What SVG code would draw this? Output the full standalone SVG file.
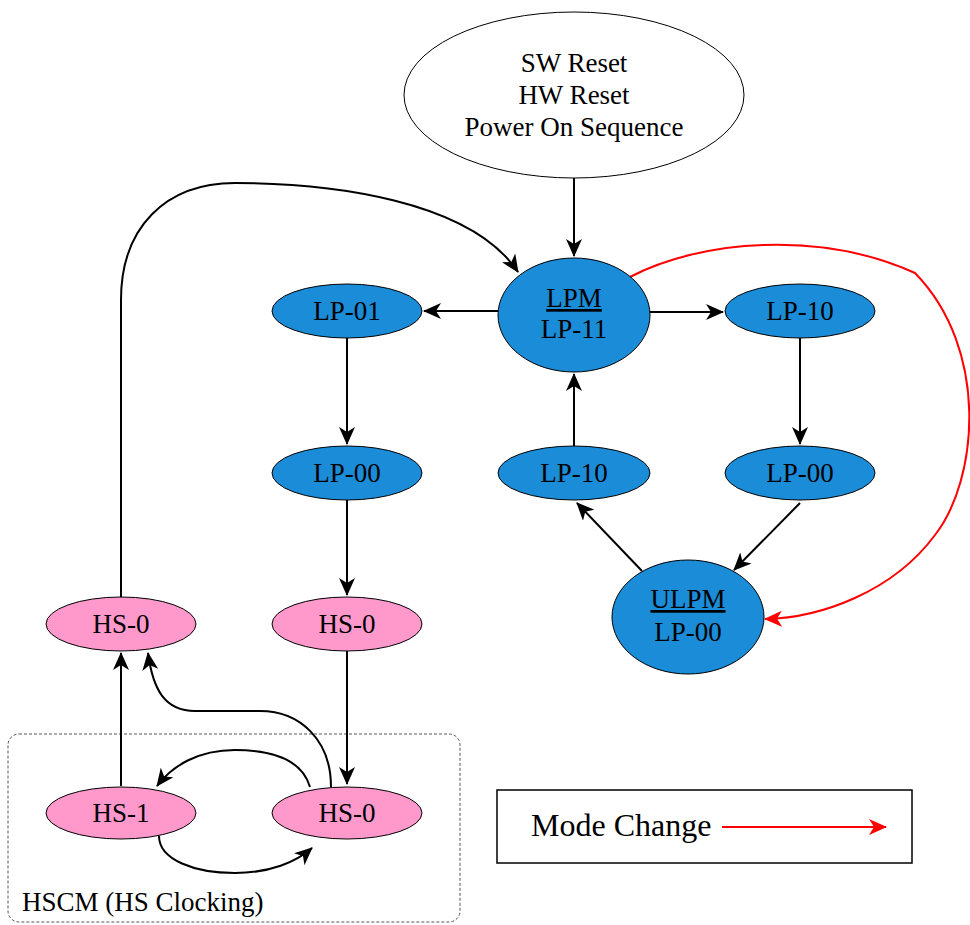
<svg xmlns="http://www.w3.org/2000/svg" width="970" height="925" viewBox="0 0 970 925">
<style>
text{font-size:27px;fill:#000;text-anchor:middle}
.blue{fill:#1B8CD8;stroke:#000;stroke-width:1}
.pink{fill:#FF99CC;stroke:#000;stroke-width:1}
.white{fill:#fff;stroke:#000;stroke-width:1}
.c{fill:none;stroke:#000;stroke-width:2}
.r{fill:none;stroke:#FF0000;stroke-width:2}
.u{text-decoration:underline}
</style>
<defs>
<marker id="ab" markerUnits="userSpaceOnUse" markerWidth="18" markerHeight="16" refX="17" refY="8" orient="auto"><path d="M0,0 L18,8 L0,16 L5,8 Z" fill="#000"/></marker>
<marker id="ar" markerUnits="userSpaceOnUse" markerWidth="18" markerHeight="16" refX="17" refY="8" orient="auto"><path d="M0,0 L18,8 L0,16 L5,8 Z" fill="#FF0000"/></marker>
</defs>
<g font-family="'Liberation Serif', 'DejaVu Serif', serif">
<g id="hscm-box">
<rect x="8" y="734" width="452" height="188" rx="11" fill="none" stroke="#555" stroke-width="1" stroke-dasharray="3 2"/>
<text x="22" y="911" style="text-anchor:start">HSCM (HS Clocking)</text>
</g>
<g id="connectors">
<path class="c" d="M574,178 L574,256" marker-end="url(#ab)"/>
<path class="c" d="M498,311 L424,311" marker-end="url(#ab)"/>
<path class="c" d="M650,312 L723,312" marker-end="url(#ab)"/>
<path class="c" d="M347,338 L347,444" marker-end="url(#ab)"/>
<path class="c" d="M800,338 L800,444" marker-end="url(#ab)"/>
<path class="c" d="M574,446 L574,374" marker-end="url(#ab)"/>
<path class="c" d="M347,500 L347,595" marker-end="url(#ab)"/>
<path class="c" d="M347,651 L347,784" marker-end="url(#ab)"/>
<path class="c" d="M800,503 L734,570" marker-end="url(#ab)"/>
<path class="c" d="M642,571 L577,503" marker-end="url(#ab)"/>
<path class="c" d="M121,786 L121,653" marker-end="url(#ab)"/>
<path class="c" d="M121,597 L121,300 C121,228 165,183 235,183 C330,183 470,200 518,272" marker-end="url(#ab)"/>
<path class="c" d="M331,787 C331,740 300,711 260,711 L195,711 C165,711 153,690 148,653" marker-end="url(#ab)"/>
<path class="c" d="M310,787 C302,760 272,750 235,750 C198,750 172,766 157,786" marker-end="url(#ab)"/>
<path class="c" d="M159,836 C159,860 195,873 235,873 C270,873 296,862 312,848" marker-end="url(#ab)"/>
<path class="r" d="M630,277 C700,240 820,230 915,273 C990,350 978,480 935,535 C893,592 820,618 765,619" marker-end="url(#ar)"/>
</g>
<g id="reset"><ellipse class="white" cx="574" cy="95" rx="170" ry="83"/>
<text x="574" y="72">SW Reset</text><text x="574" y="104">HW Reset</text><text x="574" y="136">Power On Sequence</text></g>
<g id="lpm"><ellipse class="blue" cx="574" cy="315" rx="76" ry="57"/>
<text x="574" y="307" class="u">LPM</text><text x="574" y="338">LP-11</text></g>
<g id="lp01"><ellipse class="blue" cx="347" cy="311" rx="75" ry="27"/><text x="347" y="320">LP-01</text></g>
<g id="lp10r"><ellipse class="blue" cx="800" cy="311" rx="75" ry="27"/><text x="800" y="320">LP-10</text></g>
<g id="lp00l"><ellipse class="blue" cx="347" cy="473" rx="75" ry="27"/><text x="347" y="482">LP-00</text></g>
<g id="lp10m"><ellipse class="blue" cx="574" cy="473" rx="76" ry="27"/><text x="574" y="482">LP-10</text></g>
<g id="lp00r"><ellipse class="blue" cx="800" cy="473" rx="75" ry="27"/><text x="800" y="482">LP-00</text></g>
<g id="ulpm"><ellipse class="blue" cx="688" cy="617" rx="76" ry="57"/>
<text x="688" y="608" class="u">ULPM</text><text x="688" y="641">LP-00</text></g>
<g id="hs0a"><ellipse class="pink" cx="121" cy="624" rx="75" ry="27"/><text x="121" y="633">HS-0</text></g>
<g id="hs0b"><ellipse class="pink" cx="347" cy="624" rx="75" ry="27"/><text x="347" y="633">HS-0</text></g>
<g id="hs1"><ellipse class="pink" cx="121" cy="813" rx="75" ry="26"/><text x="121" y="822">HS-1</text></g>
<g id="hs0c"><ellipse class="pink" cx="347" cy="813" rx="75" ry="26"/><text x="347" y="822">HS-0</text></g>
<g id="legend"><rect x="497" y="790" width="415" height="73" fill="#fff" stroke="#000" stroke-width="1.5"/>
<text x="531" y="836" style="text-anchor:start;font-size:32px">Mode Change</text>
<path class="r" d="M722,827 L886,827" marker-end="url(#ar)"/></g>
</g>
</svg>
